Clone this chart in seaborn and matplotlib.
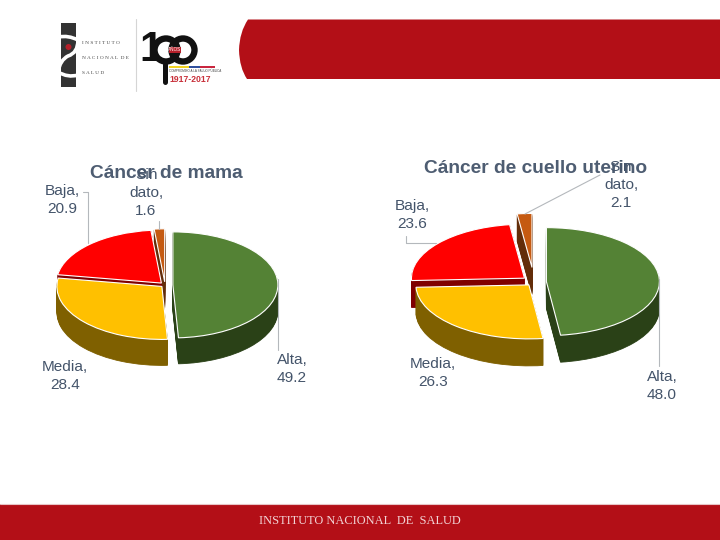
import numpy as np
import matplotlib
matplotlib.use("Agg")
import matplotlib.pyplot as plt
from matplotlib.patches import Rectangle, Circle, PathPatch
from matplotlib.path import Path
import seaborn as sns

categories = ["Alta", "Media", "Baja", "Sin dato"]
mama_values = [49.2, 28.4, 20.9, 1.6]
cuello_values = [48.0, 26.3, 23.6, 2.1]
title_mama = "Cáncer de mama"
title_cuello = "Cáncer de cuello uterino"

sns.set_theme(style="white")
plt.rcParams['font.family'] = ['Liberation Sans', 'DejaVu Sans']
top_colors = sns.color_palette(["#548235", "#FFC000", "#FF0000", "#C55A11"])
side_colors = sns.color_palette(["#2A4117", "#7F6000", "#800000", "#632D09"])
TXT = "#44546A"
RED = "#B30F17"
LEAD = "#B4B8BC"
W, H = 720, 540

fig = plt.figure(figsize=(7.2, 5.4), dpi=100, facecolor="white")


def pie3d(values, explode, cx, cy, rx, ry, depth):
    L = 1.9
    ax = fig.add_axes([(cx - L * rx) / W, 1 - (cy + L * ry) / H, 2 * L * rx / W, 2 * L * ry / H])
    ax.patch.set_alpha(0)
    step = 1.0 / ry
    for k in range(int(depth), 0, -1):
        wedges, _ = ax.pie(values, explode=explode, colors=side_colors, startangle=90,
                           counterclock=False, center=(0, -k * step), radius=1,
                           wedgeprops=dict(linewidth=0.6, edgecolor="none"))
        for i, w in enumerate(wedges):
            w.set_zorder(10 * (4 - i))
            w.set_edgecolor(side_colors[i])
    wedges, _ = ax.pie(values, explode=explode, colors=top_colors, startangle=90,
                       counterclock=False, center=(0, 0), radius=1,
                       wedgeprops=dict(linewidth=0.8, edgecolor="white"))
    for i, w in enumerate(wedges):
        w.set_zorder(10 * (4 - i) + 5)
    ax.set_xlim(-L, L)
    ax.set_ylim(-L, L)
    ax.set_aspect("auto")
    ax.axis("off")


pie3d(mama_values, [0.075, 0.04, 0.05, 0.06], 165, 285, 105, 53, 26)
pie3d(cuello_values, [0.11, 0.07, 0.11, 0.27], 534, 282, 113, 54, 27)

# overlay in pixel coordinates: header, footer, logos, labels
ov = fig.add_axes([0, 0, 1, 1], zorder=5)
ov.set_xlim(0, W)
ov.set_ylim(H, 0)
ov.axis("off")
ov.patch.set_alpha(0)

# header band with rounded left end
verts = [(720, 19.5), (248, 19.5), (239.5, 32), (239, 50), (239.5, 68), (247, 79), (720, 79), (720, 19.5)]
codes = [Path.MOVETO, Path.LINETO, Path.CURVE3, Path.CURVE3, Path.CURVE3, Path.CURVE3, Path.LINETO, Path.CLOSEPOLY]
ov.add_patch(PathPatch(Path(verts, codes), fc=RED, ec="none"))
# footer band
ov.add_patch(Rectangle((0, 504), W, 36, fc=RED, ec="none"))
ov.plot([0, W], [504, 504], color="#E8C4C6", lw=0.8)
ov.text(359.5, 521, "INSTITUTO NACIONAL  DE  SALUD", family="Liberation Serif", fontsize=8.9,
        color="#F2D4D6", ha="center", va="center")

# INS logo
ov.add_patch(Rectangle((61, 23), 15, 64, fc="#333333", ec="none"))
ov.add_patch(PathPatch(Path([(59, 37), (68, 35), (78, 40), (78, 53), (68, 56), (60, 60), (58, 72), (68, 78), (78, 75)],
                            [Path.MOVETO, Path.CURVE3, Path.CURVE3, Path.CURVE3, Path.CURVE3, Path.CURVE3, Path.CURVE3, Path.CURVE3, Path.CURVE3]),
                       fc="none", ec="white", lw=2.6))
ov.add_patch(Circle((68.5, 47), 3, fc="#B5202A", ec="none"))
for y, s in zip([43, 58, 73], ["I N S T I T U T O", "N A C I O N A L  D E", "S A L U D"]):
    ov.text(81.5, y, s, family="Liberation Serif", fontsize=3.8, color="#444444", ha="left", va="center")
ov.plot([135.5, 135.5], [19, 91], color="#D5D5D5", lw=0.8)

# 100 years logo
ov.text(151, 50, "1", family="Liberation Sans", fontweight="bold", fontsize=30, color="#111111", ha="center", va="center")
for cx in (166, 183):
    ov.add_patch(Circle((cx, 50), 11.5, fc="none", ec="#111111", lw=4.6))
ov.add_patch(Rectangle((169, 46.5), 12, 6.5, fc="#B5202A", ec="none", zorder=4))
ov.text(175, 49.8, "AÑOS", fontsize=3.3, color="white", ha="center", va="center", zorder=5)
ov.plot([165, 165], [64, 82], color="#111111", lw=3.6, solid_capstyle="round")
for x0, x1, c in [(169, 189, "#F2D21C"), (189, 200, "#2B4C9B"), (200, 215, "#C8203A")]:
    ov.plot([x0, x1], [67, 67], color=c, lw=1.4, solid_capstyle="butt")
ov.text(169, 71.5, "COMPROMISO A LA SALUD PÚBLICA", fontsize=2.2, color="#444444", ha="left", va="center")
ov.text(169.5, 79, "1917-2017", fontsize=6.2, fontweight="bold", color="#C8303A", ha="left", va="center")

# titles
ov.text(166, 173.5, title_mama, fontsize=13.8, fontweight="bold", color=TXT, ha="center", va="center", alpha=0.95)
ov.text(535.5, 168.5, title_cuello, fontsize=13.8, fontweight="bold", color=TXT, ha="center", va="center", alpha=0.95)

# data labels
FS = 11.1


def lab(x, y, i, values):
    name = categories[i].replace(" ", "\n")
    ov.text(x, y, f"{name},\n{values[i]:.1f}", fontsize=FS, color=TXT, ha="center", va="center",
            linespacing=1.36, zorder=6)


lab(62, 200, 2, mama_values)
lab(146, 193, 3, mama_values)
lab(65, 376, 1, mama_values)
lab(292, 369, 0, mama_values)
lab(412, 215, 2, cuello_values)
lab(621, 185, 3, cuello_values)
lab(433, 373, 1, cuello_values)
lab(662, 386, 0, cuello_values)

# leader lines
for xs, ys in [([83, 88, 88], [192, 192, 243]),
               ([278, 278], [279, 350]),
               ([159, 159], [221, 229]),
               ([406, 406, 436], [236, 242.5, 242.5]),
               ([659, 659], [279, 366]),
               ([525, 600], [214, 175])]:
    ov.plot(xs, ys, color=LEAD, lw=0.8, zorder=1)

fig.savefig("out.png", dpi=100)
